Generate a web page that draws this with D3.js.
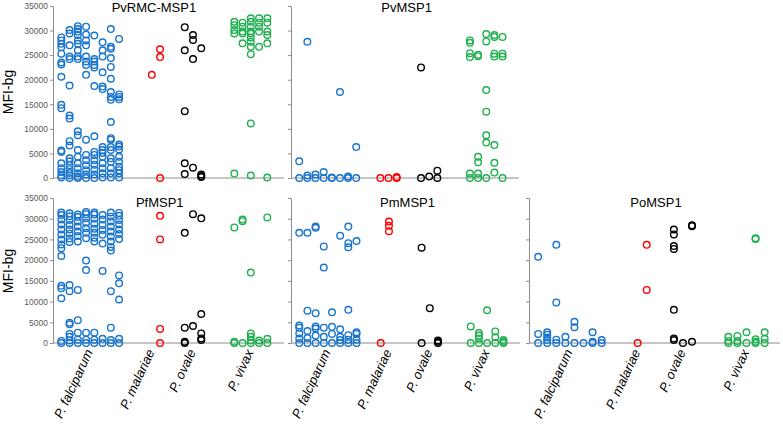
<!DOCTYPE html>
<html><head><meta charset="utf-8">
<script src="https://cdn.jsdelivr.net/npm/d3@7"></script>
<style>body{margin:0;background:#fff}svg{display:block;font-family:Arial,"Liberation Sans",sans-serif}</style>
</head><body><svg id="c" width="783" height="429"></svg>
<script>
// ---- categories / labels ----
const species = ["P. falciparum", "P. malariae", "P. ovale", "P. vivax"];
const panelTitles = ["PvRMC-MSP1", "PvMSP1", "PfMSP1", "PmMSP1", "PoMSP1"];
const yTicks = [0, 5000, 10000, 15000, 20000, 25000, 30000, 35000];
const yLabel = "MFI-bg";

// ---- values (MFI-bg), grouped by species and by sub-column ----
// PvRMC-MSP1
const pvrmcFal = [
  [28600, 28000, 27300, 26600, 25300, 23500, 23100, 20600, 14900, 14200, 5600, 5300, 3000, 2000, 1200, 500, 100],
  [30100, 29400, 27000, 24700, 24200, 18800, 12700, 12100, 7500, 6600, 4000, 3400, 2600, 1800, 1000, 500, 0],
  [30900, 30300, 29800, 29100, 28000, 27300, 26000, 24700, 24200, 9500, 8700, 5700, 4300, 3000, 2000, 950, 300, 0],
  [30800, 29200, 28000, 27000, 24700, 23700, 23000, 21000, 7800, 4700, 3600, 2600, 1600, 700, 0],
  [29000, 24200, 23700, 23000, 22500, 18700, 8500, 5300, 4700, 3600, 2700, 1700, 700, 0],
  [27600, 26000, 24700, 21500, 18600, 18100, 6300, 5700, 5100, 4300, 3000, 2000, 950, 100],
  [30300, 26700, 26300, 24400, 22600, 20200, 17500, 16500, 15900, 11400, 8100, 7800, 6300, 5700, 4000, 3300, 2000, 950, 100],
  [28300, 17000, 16500, 16000, 6800, 6400, 5800, 4300, 3300, 2300, 1600, 950, 100]
];
const pvrmcMal = [[], [21000], [26200, 24600, 0]];
const pvrmcOva = [[30700, 26000, 13600, 3000, 800], [29100, 28100, 24200, 2100], [26400, 700, 400, 200]];
const pvrmcViv = [
  [31800, 31100, 30100, 29400, 900],
  [31600, 30800, 29800, 29400, 27400],
  [32500, 31800, 30800, 29800, 29400, 28600, 27700, 26700, 25200, 11100, 500],
  [32500, 31600, 30800, 29800, 26700],
  [32500, 31600, 29800, 29100, 27400, 100]
];
// PvMSP1
const pvFal = [[3400, 0], [27700, 500, 0], [700, 0], [1200, 0], [100, 0], [17500, 0], [300, 0], [6300, 0]];
const pvMal = [[0], [0], [200, 0]];
const pvOva = [[22500, 0], [300], [1500, 0]];
const pvViv = [
  [28000, 27500, 25400, 24600, 900, 0],
  [25100, 24800, 4300, 3200, 900, 0],
  [29300, 27800, 17900, 13500, 8700, 7200, 0],
  [29100, 28700, 25300, 24700, 6700, 3100, 1100],
  [28700, 25300, 24700, 0]
];
// PfMSP1
const pfFal = [
  [31500, 30900, 29800, 28600, 27400, 26200, 25000, 23800, 22900, 21000, 13800, 13200, 10800, 500, 0],
  [31300, 30600, 29700, 28500, 27400, 26400, 25200, 24400, 14000, 12500, 4900, 4500, 2200, 1500, 600, 0],
  [31000, 30400, 29300, 28100, 26900, 25800, 24500, 12800, 5500, 2500, 800, 0],
  [31600, 31100, 30100, 29000, 27700, 26600, 25300, 19900, 17600, 2500, 800, 0],
  [31500, 31000, 30000, 28800, 27600, 26600, 25400, 24500, 2500, 800, 0],
  [30900, 29800, 28500, 27300, 26100, 24000, 17400, 1000, 0],
  [31500, 30500, 29300, 28100, 26900, 25700, 24500, 23200, 22300, 12500, 3700, 700, 0],
  [31400, 30700, 29700, 28600, 27400, 26300, 25100, 16300, 14400, 10500, 1000, 0]
];
const pfMal = [[], [], [30700, 25000, 3400, 0]];
const pfOva = [[26600, 3700, 300, 0], [31100, 4100], [30100, 7000, 2300, 1100, 700]];
const pfViv = [[27900, 300, 0], [29800, 29400, 0], [17000, 2300, 1500, 600, 0], [600, 0], [30300, 1000, 0]];
// PmMSP1
const pmFal = [
  [26600, 4200, 3700, 2300, 1100, 0],
  [26600, 7800, 2900, 1200, 0],
  [28100, 27800, 7200, 4000, 3500, 1800, 0],
  [23300, 18200, 3700, 1500, 0],
  [7400, 3900, 2200, 0],
  [25900, 3300, 1500, 700, 0],
  [28100, 24100, 23100, 8000, 1900, 800, 0],
  [24600, 2600, 2200, 800, 0]
];
const pmMal = [[0], [29300, 28300, 27000], []];
const pmOva = [[23000, 0], [8400], [600, 300, 0]];
const pmViv = [[4000, 0], [2400, 1800, 1100, 0], [7900, 0], [2800, 1400, 0], [700, 300, 0]];
// PoMSP1
const poFal = [[20800, 2200, 0], [2600, 2000, 1300, 700, 0], [23700, 9800, 800, 0], [1500, 0], [5100, 3800, 0], [0], [2600, 300, 0], [700, 0]];
const poMal = [[], [0], [23700, 12800]];
const poOva = [[27400, 26200, 23400, 22700, 8000, 1100, 700], [0], [28400, 28200, 300]];
const poViv = [[1500, 500, 0], [1700, 500, 0], [2600, 0], [25300, 25100, 900, 300, 0], [2600, 1000, 0]];

// ---- styling / layout ----
const colors = ["#1874cd", "#ff0000", "#000000", "#1fb04f"];
const axisColor = "#8c8c8c";
const rows = [
  {y0: 178, y1: 6, titleY: 12, labelY: 92},
  {y0: 343, y1: 198, titleY: 206.5, labelY: 271}
];
const panels = [
  {title: panelTitles[0], row: 0, x0: 53, x1: 284, end: 284, tx: 0.437, yLabels: true, xLabels: false, groups: [pvrmcFal, pvrmcMal, pvrmcOva, pvrmcViv]},
  {title: panelTitles[1], row: 0, x0: 291, x1: 519, end: 519, tx: 0.507, yLabels: false, xLabels: false, groups: [pvFal, pvMal, pvOva, pvViv]},
  {title: panelTitles[2], row: 1, x0: 53, x1: 284, end: 284, tx: 0.462, yLabels: true, xLabels: true, groups: [pfFal, pfMal, pfOva, pfViv]},
  {title: panelTitles[3], row: 1, x0: 291, x1: 520, end: 520, tx: 0.509, yLabels: false, xLabels: true, groups: [pmFal, pmMal, pmOva, pmViv]},
  {title: panelTitles[4], row: 1, x0: 529, x1: 783, end: 780, tx: 0.5, yLabels: false, xLabels: true, groups: [poFal, poMal, poOva, poViv]}
];
const unitWidth = 231;
const groupCenter = d3.scaleOrdinal().domain(species).range([37.2, 98.8, 140, 197.8]);
const slotStep = 8.25;

const svg = d3.select("#c");

rows.forEach(r => {
  svg.append("text")
    .attr("transform", `translate(13,${r.labelY}) rotate(-90)`)
    .attr("text-anchor", "middle")
    .attr("font-size", 14).attr("fill", "#000")
    .text(yLabel);
});

panels.forEach(p => {
  const r = rows[p.row];
  const x = d3.scaleLinear().domain([0, unitWidth]).range([p.x0, p.x1]);
  const y = d3.scaleLinear().domain([0, 35000]).range([r.y0, r.y1]);
  const g = svg.append("g");

  const ax = g.append("g").attr("transform", `translate(${p.x0},0)`)
    .call(d3.axisLeft(y).tickValues(yTicks).tickSize(3).tickSizeOuter(0).tickPadding(2)
      .tickFormat(p.yLabels ? d3.format("d") : () => ""));
  ax.select(".domain").attr("stroke", axisColor);
  ax.selectAll(".tick line").attr("stroke", axisColor);
  ax.selectAll(".tick text").attr("fill", "#595959").attr("font-size", 8.5)
    .attr("font-family", "Arial, 'Liberation Sans', sans-serif");

  g.append("line")
    .attr("x1", p.x0).attr("x2", p.end)
    .attr("y1", y(0)).attr("y2", y(0))
    .attr("stroke", axisColor).attr("stroke-width", 1);

  g.append("text")
    .attr("x", p.x0 + p.tx * (p.x1 - p.x0)).attr("y", r.titleY)
    .attr("text-anchor", "middle").attr("font-size", 13).attr("fill", "#000")
    .text(p.title);

  species.forEach((sp, i) => {
    const slots = p.groups[i];
    const n = slots.length;
    const pts = [];
    slots.forEach((vals, j) => {
      const off = (j - (n - 1) / 2) * slotStep;
      vals.forEach(v => pts.push({u: groupCenter(sp) + off, v}));
    });
    g.append("g").selectAll("circle").data(pts).join("circle")
      .attr("cx", d => x(d.u)).attr("cy", d => y(d.v))
      .attr("r", 3.3).attr("fill", "none")
      .attr("stroke", colors[i]).attr("stroke-width", 1.4);

    if (p.xLabels) {
      svg.append("text")
        .attr("transform", `translate(${x(groupCenter(sp)) + 3},352) rotate(-65)`)
        .attr("text-anchor", "end").attr("font-size", 13)
        .attr("font-style", "italic").attr("fill", "#000")
        .text(sp);
    }
  });
});
</script></body></html>
